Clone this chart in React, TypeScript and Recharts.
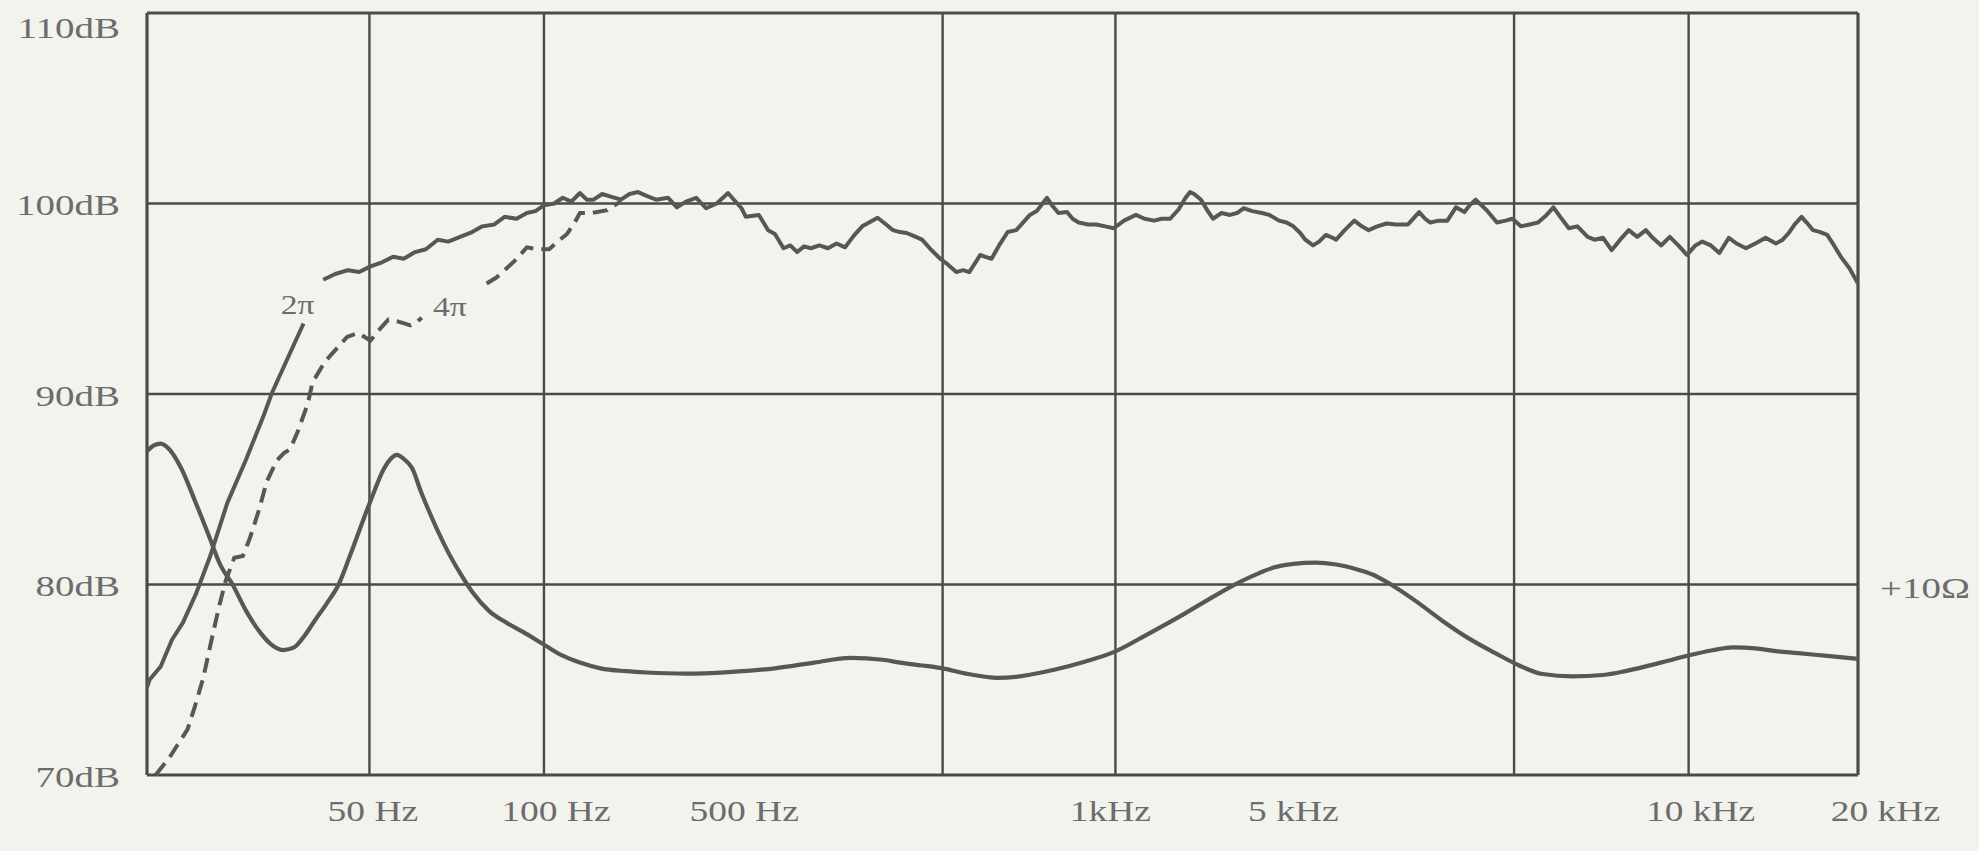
import { LineChart, Line, XAxis, YAxis, ReferenceLine, ReferenceDot } from "recharts"

// x is the position along the printed frequency scale (0 = left edge, 1000 = right edge);
// the printed scale is not a regular log axis, so labels sit where the sheet put them.
const LABEL_POS = [132, 239, 349, 563, 670, 908, 1016]
const FREQ_LABELS = ["50 Hz", "100 Hz", "500 Hz", "1kHz", "5 kHz", "10 kHz", "20 kHz"]
const GRID_POS = [0, 130, 232, 465, 566, 799, 901, 1000]
const DB_TICKS = [70, 80, 90, 100, 110]

// 2π response (solid). null = gap where the "2π" label sits
const HALF_X = [
    0, 1.5, 8, 14.6, 21, 28.8, 36.6, 47, 57.6, 67.9, 73, 83.6, 91.5, 97,
    103, 110, 117.5, 124, 130.6, 137, 143.8, 150, 156.7, 163, 169.9, 176, 183, 190, 196, 203,
    209, 216, 222, 227, 232, 238, 243, 248, 253, 257, 261, 266, 271.5, 277, 282, 287, 292,
    297.5, 304.6, 309.7, 315, 321, 326.7, 333, 339.6, 343, 347.5, 350, 357.6, 363, 367, 372,
    376, 380, 384, 388, 393, 398, 403, 408, 413, 418, 422, 427, 432, 436, 440, 444, 448, 453,
    458, 463.6, 468, 473, 477, 480.6, 487, 490, 493.6, 498, 503, 508, 512, 516, 520, 526, 529,
    532.7, 537.7, 541, 544.5, 550, 554.8, 560, 565, 571, 578, 583, 588.6, 593, 598, 603, 607,
    609.6, 612, 616, 620, 623, 628, 633, 637, 641, 646, 651.6, 656, 661.6, 666, 670, 674, 677,
    681.5, 685, 689, 693, 695, 700, 705.6, 710, 714, 719, 724.5, 730, 737, 743.5, 747, 750,
    755, 760, 765, 770, 773, 776.5, 780, 783, 789, 794, 798, 803, 808, 813, 818, 822, 826, 831,
    836, 842, 846, 851, 856, 861, 866, 871, 876, 880, 885, 890, 895, 900, 905, 909, 914, 919,
    924.5, 929, 934.5, 940, 946, 952, 956, 959.5, 963, 967, 970, 973.7, 978, 982, 986, 990,
    995, 1000,
]
const HALF_DB = [
    74.6, 75.0, 75.7, 77.1, 78.0, 79.55, 81.4, 84.3, 86.5, 88.8, 90.05, 92.15, 93.7, null,
    96.0, 96.3, 96.5, 96.4, 96.7, 96.9, 97.2, 97.1, 97.45, 97.6, 98.1, 98.0, 98.25, 98.5, 98.8, 98.9,
    99.3, 99.2, 99.5, 99.6, 99.9, 100.0, 100.3, 100.1, 100.55, 100.2, 100.2, 100.5, 100.35, 100.2, 100.5, 100.6, 100.4,
    100.2, 100.3, 99.8, 100.1, 100.3, 99.75, 100.0, 100.55, 100.2, 99.75, 99.3, 99.4, 98.6, 98.4, 97.65,
    97.8, 97.45, 97.75, 97.65, 97.8, 97.65, 97.9, 97.7, 98.3, 98.8, 99.0, 99.25, 98.9, 98.6, 98.5, 98.45, 98.3, 98.1,
    97.6, 97.1, 96.8, 96.4, 96.5, 96.4, 97.3, 97.2, 97.1, 97.8, 98.5, 98.6, 99.0, 99.4, 99.6, 100.3, 99.9,
    99.5, 99.55, 99.2, 99.0, 98.9, 98.9, 98.8, 98.7, 99.1, 99.4, 99.2, 99.1, 99.2, 99.2, 99.7, 100.3,
    100.6, 100.5, 100.2, 99.6, 99.2, 99.5, 99.4, 99.5, 99.75, 99.6, 99.5, 99.4, 99.1, 99.0, 98.8, 98.45, 98.1,
    97.8, 98.0, 98.35, 98.2, 98.1, 98.6, 99.1, 98.8, 98.6, 98.8, 98.95, 98.9, 98.9, 99.55, 99.2, 99.0,
    99.1, 99.1, 99.8, 99.55, 99.9, 100.2, 99.9, 99.65, 99.0, 99.1, 99.2, 98.8, 98.9, 99.0, 99.4, 99.8, 99.3, 98.7,
    98.8, 98.25, 98.1, 98.2, 97.55, 98.1, 98.6, 98.25, 98.6, 98.2, 97.8, 98.25, 97.8, 97.3, 97.8, 98.0, 97.8, 97.4,
    98.2, 97.9, 97.65, 97.9, 98.2, 97.9, 98.1, 98.45, 98.9, 99.3, 99.0, 98.6, 98.5, 98.35, 97.8, 97.2,
    96.6, 95.8,
]

// 4π response (dashed), joins the 2π curve around 100 Hz
const FULL_X = [
    5, 13, 18, 23.7, 28, 32.9, 37, 42, 46, 51, 56, 60, 65.4, 70, 75.8, 80, 83.6, 88, 94, 96.7,
    104, 112, 117, 123, 127, 130.6, 135, 141, 147, 154, 158, 160.6, 180,
    198.5, 204, 209, 215, 222, 228, 235, 240, 245.5, 250, 253, 260, 269, 273, 277,
]
const FULL_DB = [
    70.0, 70.9, 71.6, 72.4, 73.6, 75.1, 76.8, 78.8, 80.2, 81.4, 81.5, 82.4, 83.9, 85.4, 86.5, 86.9, 87.1, 88.0, 89.5, 90.6,
    91.7, 92.5, 93.0, 93.2, 93.0, 92.8, 93.3, 93.9, 93.8, 93.6, 93.8, 94.0, null,
    95.8, 96.1, 96.5, 97.0, 97.7, 97.6, 97.6, 98.0, 98.4, 99.0, 99.5, 99.5, 99.65, 99.9, 100.1,
]

// impedance, drawn on the same grid (80 dB line = +10 Ω)
const IMP_X = [
    0, 4, 8, 13, 20, 28, 36, 43, 50, 58, 66, 72, 79.5, 86, 92, 98, 105, 112, 119, 126, 132, 138,
    143, 146, 150, 155, 160, 164.6, 170, 176, 183, 190.6, 200, 210, 220, 231, 242, 253, 265, 280,
    292, 315, 340, 367, 390, 411, 430, 440, 453, 465, 480, 497, 512, 529, 548, 565, 585, 607, 622,
    638, 650, 659, 670, 683, 695, 705, 717, 727, 742, 757, 772, 788, 802, 815.6, 833, 851, 864,
    876, 889, 902, 915, 927, 940, 952, 965, 982, 1000,
]
const IMP_DB = [
    87.0, 87.3, 87.4, 87.1, 86.1, 84.4, 82.6, 81.0, 80.0, 78.6, 77.5, 76.9, 76.56, 76.7, 77.3, 78.1, 79.0, 80.0, 81.6, 83.3, 84.7, 86.0,
    86.65, 86.8, 86.6, 86.1, 84.9, 83.9, 82.8, 81.7, 80.6, 79.55, 78.6, 78.0, 77.5, 76.9, 76.3, 75.9, 75.6, 75.45,
    75.38, 75.32, 75.4, 75.6, 75.9, 76.15, 76.05, 75.9, 75.75, 75.6, 75.3, 75.1, 75.2, 75.5, 75.95, 76.45, 77.4, 78.5, 79.3,
    80.1, 80.6, 80.9, 81.08, 81.15, 81.05, 80.85, 80.5, 80.0, 79.1, 78.1, 77.2, 76.4, 75.75, 75.3, 75.18, 75.25, 75.45,
    75.7, 76.0, 76.3, 76.55, 76.7, 76.65, 76.5, 76.4, 76.25, 76.1,
]

const toRows = (xs: number[], ys: (number | null)[]) => xs.map((pos, i) => ({ pos, db: ys[i] }))

const INK = "#575757"
const GRID = "#4a4a4a"
const TEXT = "#6c6c6c"
const FONT = "'Liberation Serif', 'Times New Roman', serif"

// eslint-disable-next-line @typescript-eslint/no-explicit-any
function FreqTick({ x, y, payload }: any) {
    const label = FREQ_LABELS[LABEL_POS.indexOf(payload.value)]
    return (
        <text
            transform={`translate(${x},${y + 28}) scale(1.25,1)`}
            textAnchor="middle"
            dominantBaseline="central"
            fill={TEXT}
            fontSize={30}
            fontFamily={FONT}
        >
            {label}
        </text>
    )
}

// eslint-disable-next-line @typescript-eslint/no-explicit-any
function DbTick({ x, y, payload }: any) {
    const shift = payload.value === 110 ? 15 : 2
    return (
        <text
            transform={`translate(${x - 19},${y + shift}) scale(1.3,1)`}
            textAnchor="end"
            dominantBaseline="central"
            fill={TEXT}
            fontSize={30}
            fontFamily={FONT}
        >
            {`${payload.value}dB`}
        </text>
    )
}

// eslint-disable-next-line @typescript-eslint/no-explicit-any
function OhmTick({ x, y }: any) {
    return (
        <text
            transform={`translate(${x + 14},${y + 4}) scale(1.3,1)`}
            textAnchor="start"
            dominantBaseline="central"
            fill={TEXT}
            fontSize={30}
            fontFamily={FONT}
        >
            +10Ω
        </text>
    )
}

// eslint-disable-next-line @typescript-eslint/no-explicit-any
function PiLabel({ viewBox, text }: any) {
    return (
        <text
            transform={`translate(${viewBox.x},${viewBox.y}) scale(1.2,1)`}
            textAnchor="middle"
            dominantBaseline="central"
            fill={TEXT}
            fontSize={28}
            fontFamily={FONT}
        >
            {text}
        </text>
    )
}

export default function App() {
    return (
        <div style={{ position: "fixed", inset: 0, background: "#f3f3ee" }}>
            <LineChart width={1979} height={851} margin={{ top: 13, right: 0, left: 0, bottom: 0 }}>
                <XAxis
                    type="number"
                    dataKey="pos"
                    domain={[0, 1000]}
                    ticks={LABEL_POS}
                    interval={0}
                    height={76}
                    axisLine={false}
                    tickLine={false}
                    tick={FreqTick}
                    allowDataOverflow
                />
                <YAxis
                    yAxisId="db"
                    type="number"
                    domain={[70, 110]}
                    ticks={DB_TICKS}
                    interval={0}
                    width={147}
                    axisLine={false}
                    tickLine={false}
                    tick={DbTick}
                />
                <YAxis
                    yAxisId="ohm"
                    orientation="right"
                    type="number"
                    domain={[70, 110]}
                    ticks={[80]}
                    width={121}
                    axisLine={false}
                    tickLine={false}
                    tick={OhmTick}
                />
                {DB_TICKS.map(v => (
                    <ReferenceLine key={`h${v}`} yAxisId="db" y={v} stroke={GRID} strokeWidth={v === 70 || v === 110 ? 3.2 : 2.4} />
                ))}
                {GRID_POS.map(v => (
                    <ReferenceLine key={`v${v}`} yAxisId="db" x={v} stroke={GRID} strokeWidth={v === 0 || v === 1000 ? 3.2 : 2.4} />
                ))}
                <Line
                    yAxisId="ohm"
                    data={toRows(IMP_X, IMP_DB)}
                    dataKey="db"
                    type="monotoneX"
                    stroke={INK}
                    strokeWidth={4.2}
                    dot={false}
                    isAnimationActive={false}
                />
                <Line
                    yAxisId="db"
                    data={toRows(FULL_X, FULL_DB)}
                    dataKey="db"
                    type="linear"
                    stroke={INK}
                    strokeWidth={4}
                    strokeDasharray="15 8"
                    dot={false}
                    isAnimationActive={false}
                />
                <Line
                    yAxisId="db"
                    data={toRows(HALF_X, HALF_DB)}
                    dataKey="db"
                    type="linear"
                    stroke={INK}
                    strokeWidth={4}
                    strokeLinejoin="round"
                    dot={false}
                    isAnimationActive={false}
                />
                <ReferenceDot yAxisId="db" x={88} y={94.7} r={0} stroke="none" fill="none" label={<PiLabel text="2π" />} />
                <ReferenceDot yAxisId="db" x={177} y={94.6} r={0} stroke="none" fill="none" label={<PiLabel text="4π" />} />
            </LineChart>
        </div>
    )
}
